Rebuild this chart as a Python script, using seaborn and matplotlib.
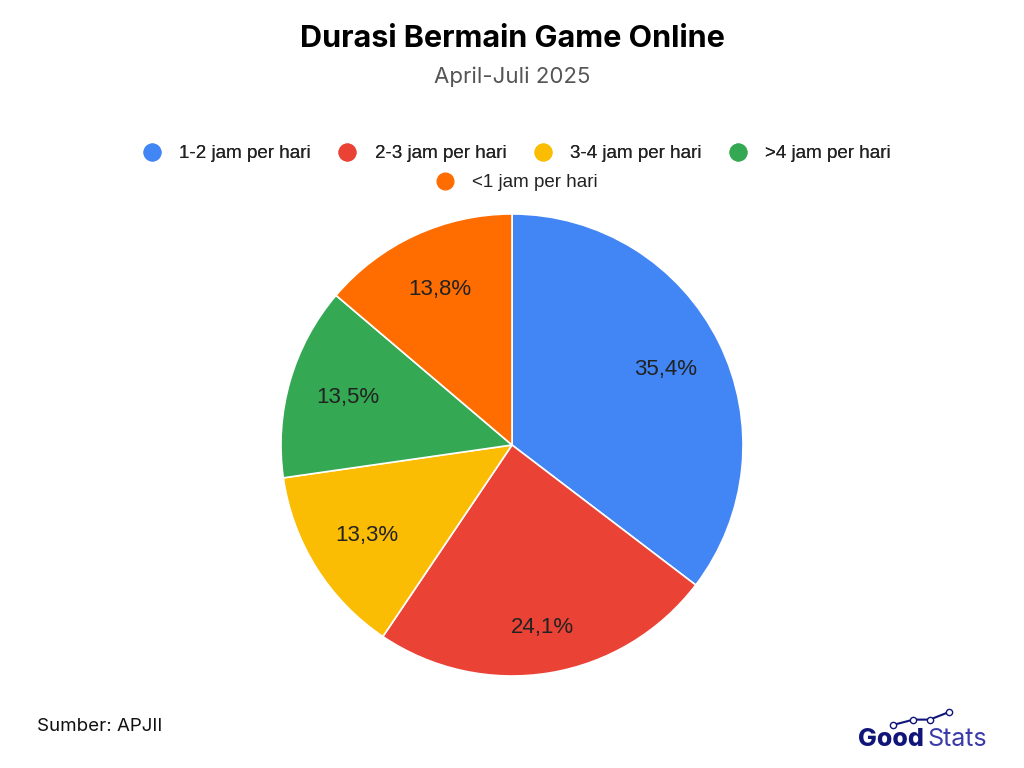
import matplotlib
matplotlib.use("Agg")
import matplotlib.pyplot as plt
import seaborn as sns
from matplotlib.lines import Line2D

# Data
categories = ["1-2 jam per hari", "2-3 jam per hari", "3-4 jam per hari", ">4 jam per hari", "<1 jam per hari"]
shares = [35.4, 24.1, 13.3, 13.5, 13.8]
colors = ["#4285F4", "#EA4335", "#FBBC04", "#34A853", "#FF6D01"]

sns.set_theme(style="white")
plt.rcParams['font.family'] = ['Liberation Sans', 'DejaVu Sans']

fig = plt.figure(figsize=(10.24, 7.68), dpi=100)
fig.patch.set_facecolor("white")

# Pie
ax = fig.add_axes([0.2744, 0.1198, 0.4512, 0.6016])
wedges, texts, autotexts = ax.pie(
    shares, colors=colors, startangle=90, counterclock=False,
    autopct=lambda p: f"{p:.1f}%".replace(".", ","), pctdistance=0.74,
    wedgeprops=dict(edgecolor="white", linewidth=1.2),
    textprops=dict(fontsize=16, color="#222222"),
)
# the bottom label sits a little further out in the original
x, y = autotexts[1].get_position()
autotexts[1].set_position((x * 1.08, y * 1.08))
ax.set_xlim(-1, 1)
ax.set_ylim(-1, 1)
ax.set_aspect("equal")

# Legend in two centered rows
leg_handles = [Line2D([0], [0], marker="o", linestyle="", markersize=12,
                      markerfacecolor=c, markeredgecolor=c) for c in colors]
leg1 = fig.legend(leg_handles[:4], categories[:4], loc="center", bbox_to_anchor=(0.5, 0.800),
                  ncol=4, frameon=False, fontsize=13.5, handletextpad=0.45, columnspacing=0.95,
                  labelcolor="#222222")
fig.add_artist(leg1)
fig.legend(leg_handles[4:], categories[4:], loc="center", bbox_to_anchor=(0.5, 0.762),
           ncol=1, frameon=False, fontsize=13.5, handletextpad=0.45, labelcolor="#222222")

# Titles
fig.text(0.5, 0.949, "Durasi Bermain Game Online", ha="center", va="center",
         fontsize=22, fontweight="bold", color="#000000", family=["Inter", "DejaVu Sans"])
fig.text(0.5, 0.900, "April-Juli 2025", ha="center", va="center",
         fontsize=16, color="#555555", family=["Inter", "DejaVu Sans"])

# Source
fig.text(0.036, 0.054, "Sumber: APJII", ha="left", va="center",
         fontsize=13.5, color="#111111", family=["Inter", "DejaVu Sans"])

# Logo
fig.text(0.838, 0.037, "Good", ha="left", va="center", fontsize=18, fontweight="heavy",
         color="#10157a", family=["Inter", "DejaVu Sans"])
fig.text(0.906, 0.037, "Stats", ha="left", va="center", fontsize=18,
         color="#3a3aa8", family=["Inter", "DejaVu Sans"])
fig.add_artist(Line2D([0.872, 0.892, 0.908, 0.927], [0.056, 0.063, 0.063, 0.073],
                      transform=fig.transFigure, color="#10157a", linewidth=1.5,
                      marker="o", markersize=4.5, markerfacecolor="white",
                      markeredgecolor="#10157a"))

fig.savefig("out.png", dpi=100)
